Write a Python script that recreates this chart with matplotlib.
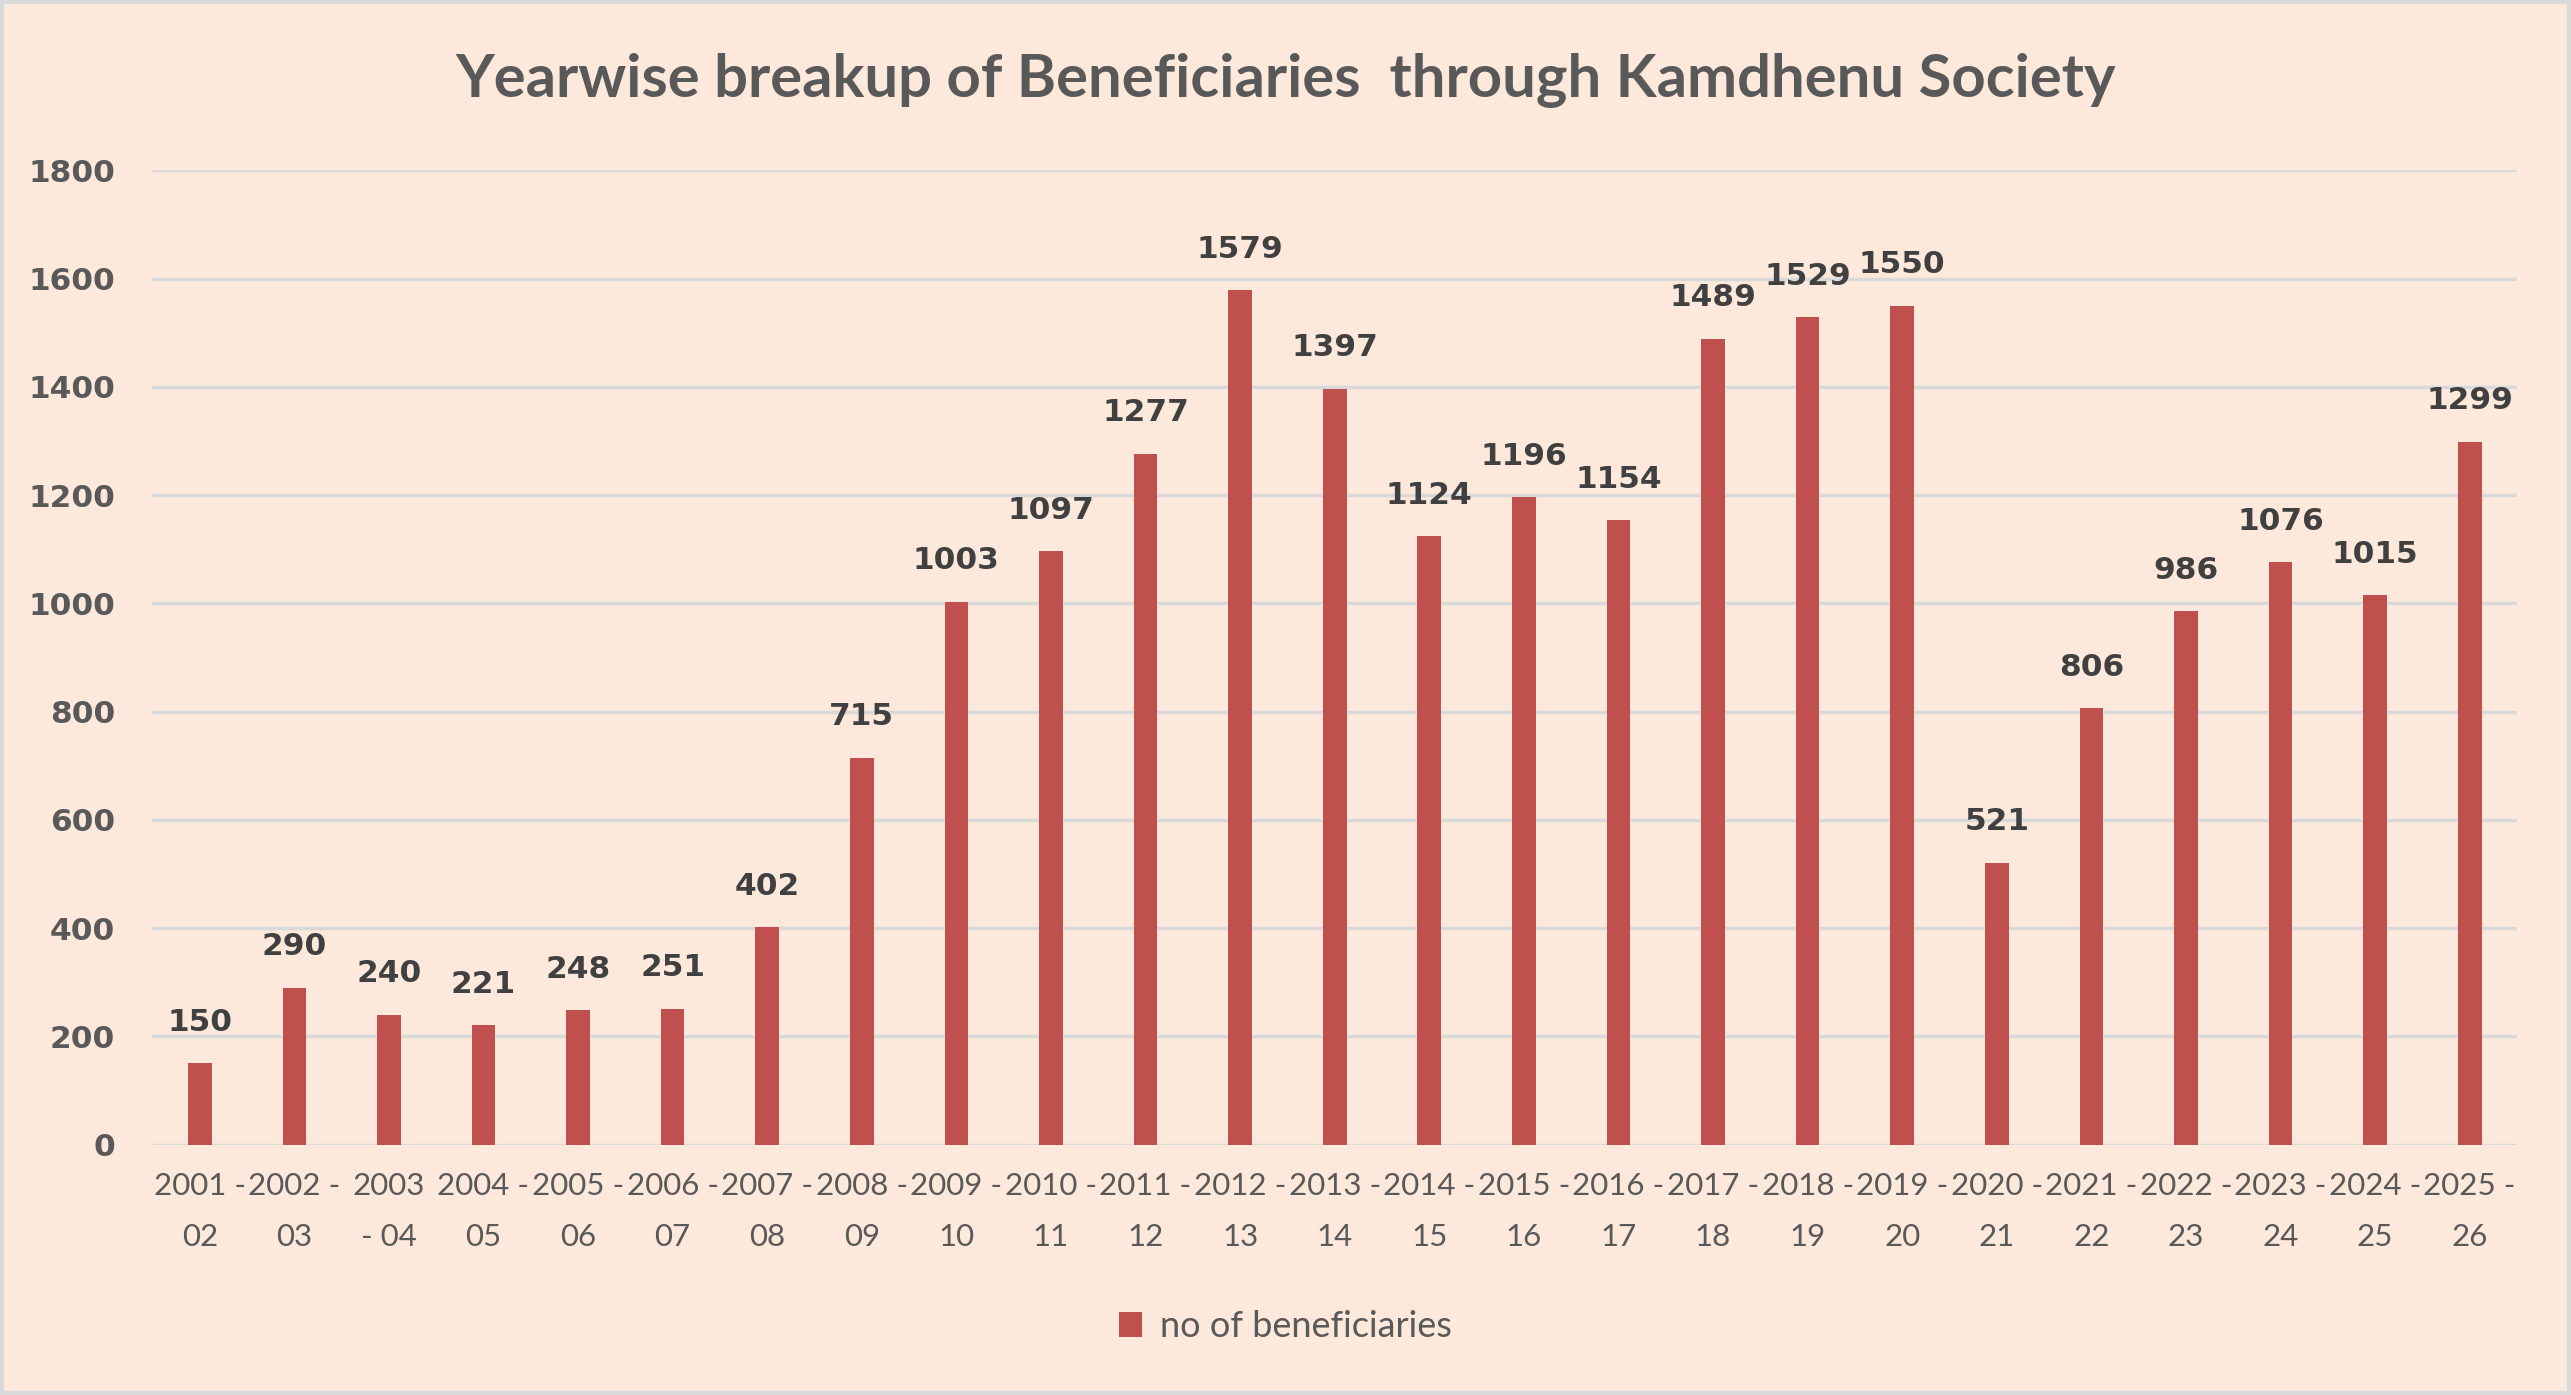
import matplotlib.pyplot as plt
import numpy as np

years = ["2001 -", "2002 -", "2003", "2004 -", "2005 -", "2006 -", "2007 -", "2008 -",
         "2009 -", "2010 -", "2011 -", "2012 -", "2013 -", "2014 -", "2015 -", "2016 -",
         "2017 -", "2018 -", "2019 -", "2020 -", "2021 -", "2022 -", "2023 -", "2024 -",
         "2025 -"]
ends = ["02", "03", "- 04", "05", "06", "07", "08", "09", "10", "11", "12", "13", "14",
        "15", "16", "17", "18", "19", "20", "21", "22", "23", "24", "25", "26"]
beneficiaries = [150, 290, 240, 221, 248, 251, 402, 715, 1003, 1097, 1277, 1579, 1397,
                 1124, 1196, 1154, 1489, 1529, 1550, 521, 806, 986, 1076, 1015, 1299]

bg = "#fde9dc"
bar_col = "#c0504d"
txt = "#595959"

fig = plt.figure(figsize=(25.71, 13.95), dpi=100, facecolor=bg)
ax = fig.add_axes([0.0593, 0.1795, 0.9197, 0.6983])
ax.set_facecolor(bg)

x = np.arange(len(beneficiaries))
bars = ax.bar(x, beneficiaries, width=0.25, color=bar_col, zorder=3,
              label="no of beneficiaries")

for xi, v in zip(x, beneficiaries):
    ax.annotate(str(v), (xi, v), xytext=(0, 19), textcoords="offset points",
                ha="center", va="bottom", fontsize=22.5, fontweight="bold",
                color="#404040", family="DejaVu Sans")

ax.set_xlim(-0.5, len(beneficiaries) - 0.5)
ax.set_ylim(0, 1800)
ax.set_yticks(range(0, 1801, 200))
ax.yaxis.grid(True, color="#d9d9d9", linewidth=2.5, zorder=0)
ax.tick_params(axis="y", length=0, pad=27, labelsize=22.5, labelcolor=txt)
for lab in ax.get_yticklabels():
    lab.set_fontweight("bold")
    lab.set_family("DejaVu Sans")

ax.set_xticks(x)
ax.set_xticklabels([a + "\n" + b for a, b in zip(years, ends)], family="Lato",
                   fontsize=22.5, color=txt, linespacing=2.0)
ax.tick_params(axis="x", length=0, pad=20)
for s in ax.spines.values():
    s.set_visible(False)

fig.text(0.5, 0.942, "Yearwise breakup of Beneficiaries  through Kamdhenu Society",
         ha="center", va="center", fontsize=43, fontweight="bold", color=txt,
         family="Lato")

leg = fig.legend(loc="center", bbox_to_anchor=(0.5, 0.049), frameon=False,
                 prop={"family": "Lato", "size": 26}, handlelength=0.65,
                 handleheight=0.65, handletextpad=0.5)
for t in leg.get_texts():
    t.set_color(txt)

# thin grey frame round the picture
fig.patches.append(plt.Rectangle((0, 0), 1, 1, transform=fig.transFigure,
                                 fill=False, edgecolor="#d9d9d9", linewidth=6))

fig.savefig("out.png", facecolor=bg)
